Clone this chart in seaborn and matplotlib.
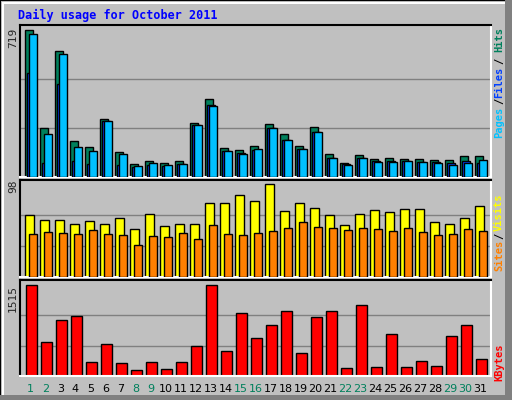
import matplotlib
matplotlib.use("Agg")
import matplotlib.pyplot as plt
import seaborn as sns
import pandas as pd
import numpy as np
from matplotlib.patches import Rectangle

days = list(range(1, 32))
hits = [719,241,612,177,148,285,124,65,80,70,80,265,382,143,133,153,260,211,153,246,114,70,109,89,94,89,89,85,85,104,104]
files = [509,70,451,80,65,275,60,50,60,55,65,255,353,128,119,133,241,182,138,221,94,65,94,80,80,80,75,75,70,80,70]
pages = [699,211,602,148,128,275,114,55,70,60,65,255,348,128,114,138,241,182,138,221,94,60,94,75,75,80,75,70,60,70,85]
visits = [65,60,60,56,59,56,62,50,66,54,56,56,78,78,86,80,98,69,78,73,65,55,66,70,68,72,71,58,56,62,75]
sites = [45,47,46,45,49,45,44,34,43,42,46,40,55,45,44,46,48,52,58,53,52,49,52,50,48,52,47,44,45,50,48]
kbytes = [1515,566,932,999,233,533,216,100,233,117,233,499,1515,416,1049,633,849,1082,383,982,1082,133,1182,150,699,150,250,166,666,849,283]
weekend = [1,2,8,9,15,16,22,23,29,30]

sns.set_style("white")
plt.rcParams['font.family'] = ['DejaVu Sans']
BG = "#c0c0c0"
fig = plt.figure(figsize=(5.12, 4.0), dpi=100, facecolor=BG)
W, H = 512, 400

# outer 3D frame
fig.patches.append(Rectangle((0, 0), 1, 1, transform=fig.transFigure, fill=False, ec="black", lw=1.5))
fig.patches.append(Rectangle((505/W, 0), 7/W, 1, transform=fig.transFigure, fc="#808080", ec="none"))
fig.patches.append(Rectangle((0, 0), 1, 5/H, transform=fig.transFigure, fc="#808080", ec="none"))
fig.patches.append(Rectangle((2/W, 5/H), 1.5/W, 393/H, transform=fig.transFigure, fc="white", ec="none"))
fig.patches.append(Rectangle((2/W, 396/H), 503/W, 1.5/H, transform=fig.transFigure, fc="white", ec="none"))

def mkax(top, bottom):
    ax = fig.add_axes([20/W, (H-bottom)/H, 470.7/W, (bottom-top)/H])
    ax.set_facecolor(BG)
    for s in ax.spines.values():
        s.set_color("black"); s.set_linewidth(1.5)
    ax.spines['right'].set_color("white")
    ax.spines['bottom'].set_color("white")
    ax.set_xlim(0.333, 31.71)
    ax.set_xticks([]); ax.set_yticks([])
    return ax

x = np.array(days, dtype=float)
ek = dict(edgecolor="black", linewidth=1)

ax1 = mkax(25, 177)
ax1.set_ylim(0, 741)
for g in (719/3, 719*2/3):
    ax1.axhline(g, color="#808080", lw=1, zorder=0)
ax1.bar(x-0.333, hits, width=0.52, align="edge", color="#00805c", zorder=2, **ek)
ax1.bar(x-0.2, files, width=0.5, align="edge", color="#0040ff", zorder=3, **ek)
ax1.bar(x-0.04, pages, width=0.5, align="edge", color="#00c0ff", zorder=4, **ek)

ax2 = mkax(180, 277)
ax2.set_ylim(0, 102)
for g in (98/3, 98*2/3):
    ax2.axhline(g, color="#808080", lw=1, zorder=0)
ax2.bar(x-0.333, visits, width=0.58, align="edge", color="#ffff00", zorder=2, **ek)
ax2.bar(x-0.044, sites, width=0.49, align="edge", color="#ff8000", zorder=3, **ek)

ax3 = mkax(280, 376)
ax3.set_ylim(0, 1598)
for g in (1515/3, 1515*2/3):
    ax3.axhline(g, color="#808080", lw=1, zorder=0)
df = pd.DataFrame({"day": x + 0.1, "kb": kbytes})
sns.barplot(data=df, x="day", y="kb", native_scale=True, width=0.69, color="#ff0000",
            saturation=1, ax=ax3, zorder=2, **ek)
ax3.set_xlim(0.333, 31.71); ax3.set_ylim(0, 1598)
ax3.set_xlabel(""); ax3.set_ylabel(""); ax3.set_xticks([]); ax3.set_yticks([])

for d in days:
    fig.text((20 + 5 + 15*(d-1) + 5.5)/W, (H-389)/H, str(d), ha="center", va="center",
             fontsize=8, color="#00805c" if d in weekend else "black")

mono = "DejaVu Sans Mono"
fig.text(18/W, (H-15)/H, "Daily usage for October 2011", ha="left", va="center",
         fontsize=8.5, fontweight="bold", color="#0000ff", family=mono)
for val, yc in (("719", 38), ("98", 186), ("1515", 298)):
    fig.text(13/W, (H-yc)/H, val, rotation=90, ha="center", va="center", fontsize=8, family=mono)

def rt(s, yc, c):
    fig.text(499/W, (H-yc)/H, s, rotation=90, ha="center", va="center", fontsize=7.5,
             fontweight="bold", color=c, family=mono)
rt("Pages", 122, "#00c0ff"); rt("/", 101, "black"); rt("Files", 82, "#0040ff")
rt("/", 61, "black"); rt("Hits", 40, "#00805c")
rt("Sites", 255, "#ff8000"); rt("/", 236, "black"); rt("Visits", 212, "#ffff00")
rt("KBytes", 362, "#ff0000")

fig.savefig("out.png", dpi=100, facecolor=BG)
